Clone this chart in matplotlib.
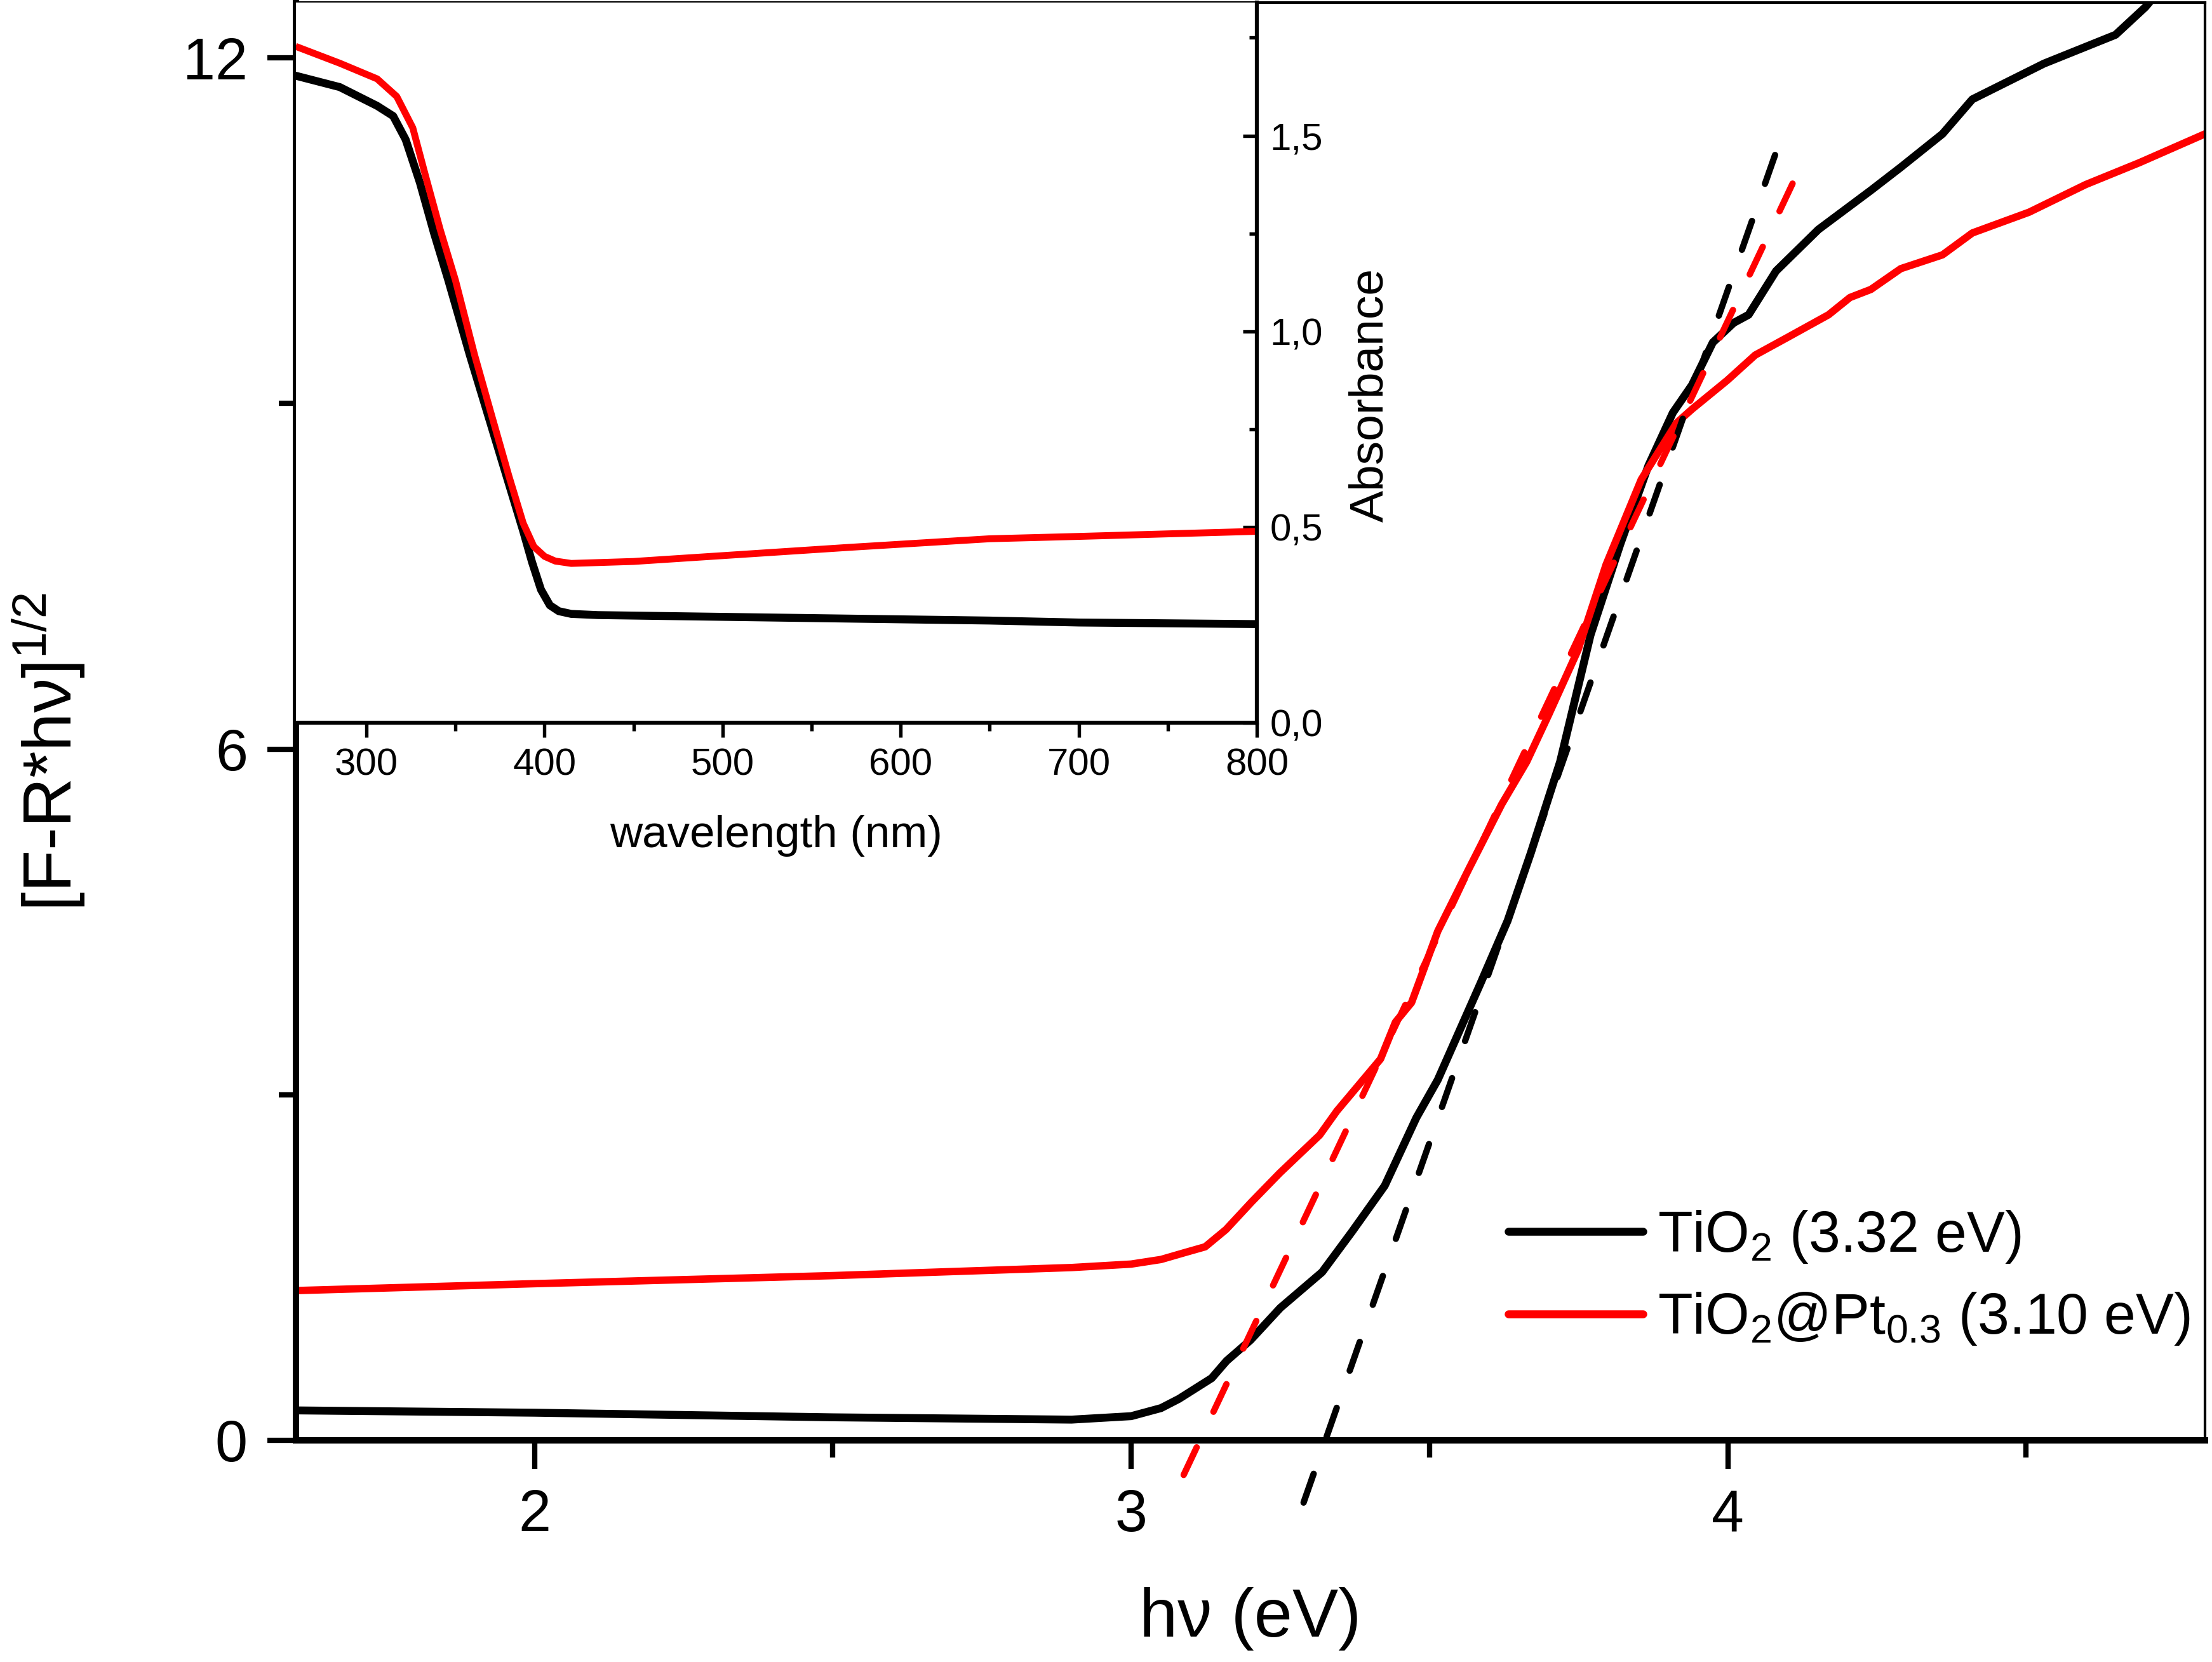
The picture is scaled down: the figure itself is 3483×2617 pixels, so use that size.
import matplotlib
matplotlib.use("Agg")
import matplotlib.pyplot as plt
from matplotlib.ticker import MultipleLocator, FixedLocator, FuncFormatter

plt.rcParams['font.family'] = ['Liberation Sans', 'DejaVu Sans']
plt.rcParams['mathtext.fontset'] = 'custom'
plt.rcParams['mathtext.rm'] = 'Liberation Sans'
plt.rcParams['mathtext.it'] = 'Liberation Sans:italic'

# Tauc plot, [F(R)*hv]^1/2 vs photon energy
ev_tio2 = [1.60, 2.00, 2.50, 2.90, 3.00, 3.05, 3.08, 3.135, 3.16, 3.20, 3.25,
           3.32, 3.37, 3.425, 3.478, 3.514, 3.585, 3.631, 3.67, 3.719, 3.77,
           3.82, 3.867, 3.908, 3.94, 3.975, 4.01, 4.035, 4.081, 4.152, 4.24,
           4.29, 4.36, 4.41, 4.53, 4.65, 4.70, 4.75]
km_tio2 = [0.26, 0.24, 0.20, 0.18, 0.21, 0.28, 0.36, 0.54, 0.69, 0.87, 1.15,
           1.46, 1.81, 2.21, 2.80, 3.13, 3.96, 4.51, 5.10, 5.89, 6.99,
           7.78, 8.46, 8.92, 9.16, 9.53, 9.70, 9.77, 10.15, 10.51, 10.85,
           11.05, 11.34, 11.64, 11.95, 12.20, 12.44, 12.75]

ev_pt = [1.60, 2.00, 2.50, 2.90, 3.00, 3.05, 3.09, 3.124, 3.159, 3.202, 3.249,
         3.316, 3.345, 3.418, 3.443, 3.47, 3.514, 3.567, 3.621, 3.663, 3.70,
         3.749, 3.796, 3.855, 3.914, 3.94, 3.999, 4.046, 4.099, 4.169, 4.205,
         4.24, 4.29, 4.36, 4.41, 4.505, 4.60, 4.69, 4.80]
km_pt = [1.30, 1.36, 1.43, 1.50, 1.53, 1.57, 1.63, 1.68, 1.83, 2.07, 2.32,
         2.65, 2.86, 3.31, 3.63, 3.80, 4.42, 4.97, 5.52, 5.89, 6.30,
         6.86, 7.60, 8.34, 8.83, 8.95, 9.20, 9.42, 9.57, 9.77, 9.92,
         9.99, 10.17, 10.29, 10.48, 10.66, 10.90, 11.09, 11.34]

# linear fits (band gap extrapolation)
fit_tio2_x = [3.289, 4.091]
fit_tio2_y = [-0.54, 11.33]
fit_pt_x = [3.088, 4.127]
fit_pt_y = [-0.30, 11.11]

labels = ['TiO$_2$ (3.32 eV)', 'TiO$_2$@Pt$_{0.3}$ (3.10 eV)']

# inset, UV-vis absorbance
nm_tio2 = [262, 285, 306, 315, 322, 330, 338, 346, 358, 370, 380, 388, 393,
           398, 403, 408, 415, 430, 492, 650, 700, 800]
abs_tio2 = [1.651, 1.624, 1.576, 1.55, 1.49, 1.38, 1.25, 1.13, 0.94, 0.76,
            0.61, 0.49, 0.41, 0.34, 0.30, 0.285, 0.278, 0.275, 0.271, 0.261,
            0.256, 0.252]
nm_pt = [262, 285, 306, 317, 326, 333, 341.4, 350, 360.7, 370, 380, 388, 394,
         400, 406, 415, 450, 571, 650, 700, 800]
abs_pt = [1.725, 1.685, 1.645, 1.60, 1.52, 1.40, 1.26, 1.13, 0.94, 0.79,
          0.63, 0.51, 0.45, 0.425, 0.413, 0.407, 0.412, 0.448, 0.47, 0.476,
          0.489]

W, H = 3483, 2617
fig = plt.figure(figsize=(W / 300, H / 300), dpi=300)

ax = fig.add_axes([466 / W, 1 - 2268 / H, 3006 / W, 2264 / H])
ax.plot(ev_tio2, km_tio2, color='black', lw=3.0, label=labels[0])
ax.plot(ev_pt, km_pt, color='red', lw=2.8, label=labels[1])
ax.plot(fit_tio2_x, fit_tio2_y, color='black', lw=2.4, ls=(0, (4.8, 6.2)),
        dash_capstyle='round', clip_on=False)
ax.plot(fit_pt_x, fit_pt_y, color='red', lw=2.4, ls=(0, (4.8, 6.2)),
        dash_capstyle='round', clip_on=False)
ax.set_xlim(1.6, 4.8)
ax.set_ylim(0, 12.48)
ax.xaxis.set_major_locator(FixedLocator([2, 3, 4]))
ax.xaxis.set_minor_locator(FixedLocator([2.5, 3.5, 4.5]))
ax.yaxis.set_major_locator(FixedLocator([0, 6, 12]))
ax.yaxis.set_minor_locator(FixedLocator([3, 9]))
ax.tick_params(which='both', direction='out', width=2, labelsize=22, pad=7.5,
               top=False, right=False)
ax.tick_params(which='major', length=10.8)
ax.tick_params(which='minor', length=6.5)
for s in ['left', 'bottom']:
    ax.spines[s].set_linewidth(2.4)
for s in ['top', 'right']:
    ax.spines[s].set_linewidth(1.0)
ax.set_xlabel('hν (eV)', fontsize=26)
ax.xaxis.set_label_coords(0.5, -0.102)
ax.set_ylabel('[F-R*hν]$^{1/2}$', fontsize=26)
ax.yaxis.set_label_coords(-0.109, 0.479)

leg = ax.legend(loc='center left', bbox_to_anchor=(2375 / W, 1 - 2012 / H),
                bbox_transform=fig.transFigure, frameon=False, fontsize=21.5,
                borderpad=0, borderaxespad=0, handlelength=2.37,
                handletextpad=0.25, labelspacing=0.45)
for line in leg.get_lines():
    line.set_linewidth(3.0)
    line.set_solid_capstyle('round')

# inset
ins = fig.add_axes([466 / W, 1 - 1138 / H, 1513 / W, 1134 / H])
ins.set_facecolor('white')
ins.plot(nm_tio2, abs_tio2, color='black', lw=3.0)
ins.plot(nm_pt, abs_pt, color='red', lw=2.6)
ins.set_xlim(260.4, 800)
ins.set_ylim(0, 1.84)
ins.xaxis.set_major_locator(MultipleLocator(100))
ins.xaxis.set_minor_locator(MultipleLocator(50))
ins.yaxis.set_major_locator(MultipleLocator(0.5))
ins.yaxis.set_minor_locator(MultipleLocator(0.25))
ins.yaxis.set_major_formatter(FuncFormatter(lambda v, p: f'{v:.1f}'.replace('.', ',')))
ins.yaxis.tick_right()
ins.tick_params(axis='x', which='both', direction='out', width=1.3,
                labelsize=14.4, pad=4)
ins.tick_params(axis='y', which='both', direction='in', width=1.3,
                labelsize=14.4, pad=5, left=False, right=True)
ins.tick_params(which='major', length=5.4)
ins.tick_params(which='minor', length=3.0)
ins.spines['left'].set_visible(False)
ins.spines['top'].set_visible(False)
ins.spines['right'].set_linewidth(1.5)
ins.spines['bottom'].set_linewidth(1.5)
fig.text(1222 / W, 1 - 1316 / H, 'wavelength (nm)', fontsize=17,
         ha='center', va='center')
fig.text(2158 / W, 1 - 622 / H, 'Absorbance', fontsize=18, rotation=90,
         ha='center', va='center')

fig.savefig('out.png', dpi=300, facecolor='white')
